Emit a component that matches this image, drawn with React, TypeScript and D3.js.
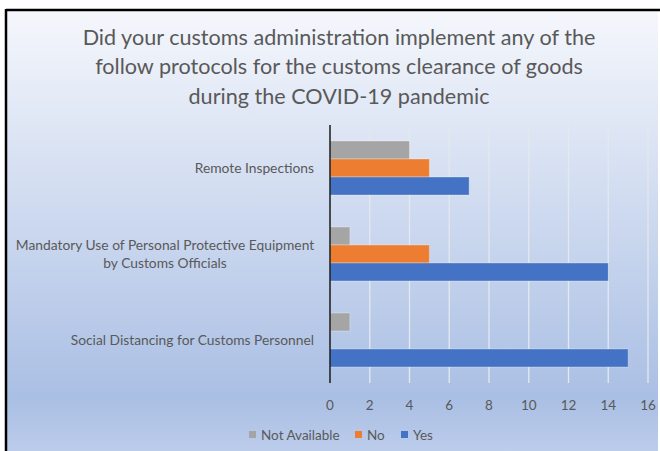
import * as d3 from "d3";

const categories = [
  "Remote Inspections",
  "Mandatory Use of Personal Protective Equipment\nby Customs Officials",
  "Social Distancing for Customs Personnel",
];
const seriesNames = ["Not Available", "No", "Yes"];
const seriesColors = ["#a5a5a5", "#ed7d31", "#4472c4"];
const notAvailable = [4, 1, 1];
const no = [5, 5, 0];
const yes = [7, 14, 15];
const xTicks = [0, 2, 4, 6, 8, 10, 12, 14, 16];
const titleLines = [
  "Did your customs administration implement any of the",
  "follow protocols for the customs clearance of goods",
  "during the COVID-19 pandemic",
];

const W = 660;
const H = 451;
const font = "Lato, 'Open Sans', sans-serif";

export default function App() {
  const values = [notAvailable, no, yes];
  const x = d3.scaleLinear().domain([0, 16]).range([330, 648]);
  const y = d3
    .scaleBand()
    .domain(categories)
    .range([125, 383])
    .paddingInner(32 / 86)
    .paddingOuter(16 / 86);
  const inner = d3.scaleBand().domain(seriesNames).range([0, y.bandwidth()]);

  const legendX = [249, 355, 401];

  return (
    <svg
      width={W}
      height={H}
      style={{ position: "absolute", left: 0, top: 0, display: "block" }}
    >
      <defs>
        <linearGradient id="bg" x1="0" y1="0" x2="0" y2="1">
          <stop offset="0" stopColor="#f5f7fc" />
          <stop offset="0.88" stopColor="#aabfe4" />
          <stop offset="1" stopColor="#bccceb" />
        </linearGradient>
      </defs>
      <rect x={0} y={0} width={W} height={H} fill="#fff" />
      <rect x={6} y={10} width={652} height={H - 10} fill="url(#bg)" />
      <line x1={6} x2={W} y1={10} y2={10} stroke="#000" strokeWidth={2.5} />
      <line x1={6} x2={6} y1={9} y2={H} stroke="#000" strokeWidth={2.5} />

      {titleLines.map((t, i) => (
        <text
          key={t}
          x={339}
          y={37 + i * 29.5}
          dy="0.35em"
          textAnchor="middle"
          fontFamily={font}
          fontSize={21.6}
          fill="#595959"
        >
          {t}
        </text>
      ))}

      {xTicks.map((t) => (
        <g key={t}>
          {t > 0 && (
            <line
              x1={x(t)}
              x2={x(t)}
              y1={125}
              y2={383}
              stroke="#e4e8ef"
              strokeWidth={1.3}
            />
          )}
          <text
            x={x(t)}
            y={405}
            dy="0.35em"
            textAnchor="middle"
            fontFamily={font}
            fontSize={13.5}
            fill="#595959"
          >
            {t}
          </text>
        </g>
      ))}

      {categories.map((c, ci) =>
        seriesNames.map((s, si) => (
          <rect
            key={c + s}
            x={x(0)}
            y={(y(c) as number) + (inner(s) as number)}
            width={x(values[si][ci]) - x(0)}
            height={inner.bandwidth()}
            fill={seriesColors[si]}
            stroke="#ffffff"
            strokeOpacity={0.3}
            strokeWidth={1}
          />
        ))
      )}

      <line x1={x(0)} x2={x(0)} y1={125} y2={383} stroke="#1a1a1a" strokeWidth={1.5} />

      {categories.map((c) => {
        const lines = c.split("\n");
        const cy = (y(c) as number) + y.bandwidth() / 2;
        return (
          <text
            key={c}
            textAnchor="middle"
            fontFamily={font}
            fontSize={13.8}
            fill="#595959"
          >
            {lines.map((l, li) => (
              <tspan
                key={l}
                x={lines.length > 1 ? 165 : 314}
                textAnchor={lines.length > 1 ? "middle" : "end"}
                y={cy + (li - (lines.length - 1) / 2) * 18}
                dy="0.35em"
              >
                {l}
              </tspan>
            ))}
          </text>
        );
      })}

      {seriesNames.map((s, i) => (
        <g key={s}>
          <rect x={legendX[i]} y={431} width={7} height={7} fill={seriesColors[i]} />
          <text
            x={legendX[i] + 12}
            y={435}
            dy="0.35em"
            fontFamily={font}
            fontSize={13.5}
            fill="#595959"
          >
            {s}
          </text>
        </g>
      ))}
    </svg>
  );
}
